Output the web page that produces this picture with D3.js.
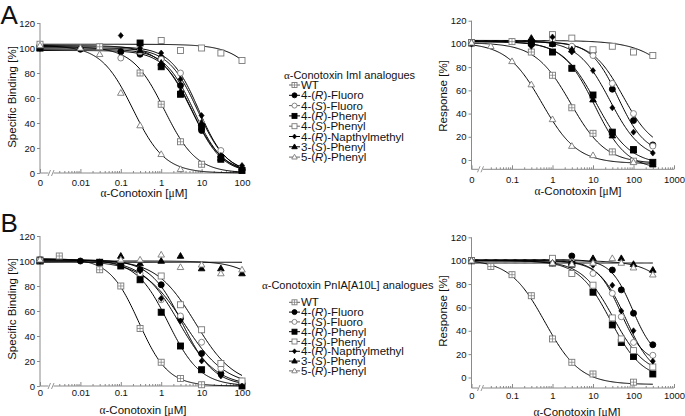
<!DOCTYPE html>
<html><head><meta charset="utf-8">
<script src="https://cdn.jsdelivr.net/npm/d3@7"></script>
<style>
body{margin:0;background:#fff}
svg{display:block}
text{font-family:"Liberation Sans",Arial,Helvetica,sans-serif;fill:#111}
</style>
</head><body>
<svg id="c" width="685" height="416"></svg>
<script>
// ---------------- DATA ----------------
const seriesNames = ["WT","4-(R)-Fluoro","4-(S)-Fluoro","4-(R)-Phenyl","4-(S)-Phenyl","4-(R)-Napthylmethyl","3-(S)-Phenyl","5-(R)-Phenyl"];
const seriesSymbols = ["boxplus","circle-f","circle-o","square-f","square-o","diamond-f","triangle-f","triangle-o"];
const legendTitleA = "α-Conotoxin ImI analogues";
const legendTitleB = "α-Conotoxin PnIA[A10L] analogues";
const xTitle = "α-Conotoxin [μM]";
const yTitleBinding = "Specific Binding [%]";
const yTitleResponse = "Response [%]";
const yTicks = [0, 20, 40, 60, 80, 100, 120];
const xTicksLeft = [0, 0.01, 0.1, 1, 10, 100];
const xTicksRight = [0, 0.1, 1, 10, 100, 1000];

// Panel A, binding (ImI)
const concABind = [0, 0.01, 0.03, 0.1, 0.3, 1, 3, 10, 30, 100];
const valsABind = [
  [100, null, 101, null, 80, 55, 25, 7, null, null],
  [100, 99, null, 97, 95, 92, 70, 34, 13, 3],
  [100, null, null, 92, 97, 91, 80, 40, 18, 4],
  [100, null, null, null, 104, 85, 63, 37, 11, 2],
  [103, null, null, null, null, 106, 98, 100, 96, 90],
  [100, null, null, 110, 100, 96, 75, 46, 14, 6],
  [100, null, null, null, 98, 88, 65, 40, 12, 4],
  [102, 100, 95, 64, 38, 15, 3, null, null, null]
];
// fitted curves: [top, bottom, IC50 (µM), Hill slope]
const fitsABind = [
  [101, 0, 1.2, 1.1], [98, 0, 6, 1.2], [100, 0, 8, 1.2], [102, 0, 5.5, 1.1],
  [103, 0, 700, 1], [101, 0, 8.5, 1.25], [99, 0, 6.5, 1.2], [102, 0, 0.2, 1.1]
];

// Panel A, response (ImI)
const concAResp = [0, 0.03, 0.1, 0.3, 1, 3, 10, 30, 100, 300];
const valsAResp = [
  [101, null, 102, 93, 73, 45, 23, 7, -1, null],
  [101, null, null, 100, 100, 97, 93, 61, 34, 13],
  [100, null, null, null, 104, 98, 90, 66, 40, 12],
  [101, null, null, 101, 93, 79, 56, 24, 9, -2],
  [101, null, null, null, 108, 105, 95, 98, 93, 90],
  [100, null, null, 98, 106, 93, 77, 45, 24, 6],
  [101, null, null, 105, 100, 95, 52, 21, 8, -4],
  [101, 98, 85, 65, 35, 12, 4, null, -2, null]
];
const fitsAResp = [
  [101, -3, 2.8, 1.0], [102, 5, 42, 1.3], [102, 8, 55, 1.15], [102, -4, 12, 1.05],
  [103, 0, 3000, 0.8], [103, 0, 26, 1.1], [102, -8, 11, 1.1], [101, -3, 0.55, 1.0]
];

// Panel B, binding (PnIA[A10L])
const concBBind = [0, 0.003, 0.01, 0.03, 0.1, 0.3, 1, 3, 10, 30, 100];
const valsBBind = [
  [101, 104, null, 93, 80, 46, 19, 6, 1, null, null],
  [101, null, 100, 99, 98, 93, 81, 54, 26, 10, 2],
  [100, null, null, 99, 98, 90, 69, 56, 35, 14, 4],
  [100, null, null, 99, 96, 85, 59, 32, 13, null, 0],
  [100, null, null, null, null, null, 88, 65, 45, 18, 4],
  [100, null, null, null, null, 92, 70, 52, 20, 8, 0],
  [100, null, null, null, 104, 98, 100, 104, 94, 94, 90],
  [101, null, null, null, 101, 101, 105, 95, 97, 90, 93]
];
const fitsBBind = [
  [102, 0, 0.28, 1.2], [101, 0, 3.3, 1.1], [100, 0, 3.7, 0.85], [101, 0, 1.5, 1.1],
  [101, 0, 7, 0.9], [101, 0, 2.8, 0.95], [100, 0, 1300, 1], [99, 99, 1, 1]
];

// Panel B, response (PnIA[A10L])
const concBResp = [0, 0.03, 0.1, 0.3, 1, 3, 10, 30, 50, 100, 300];
const valsBResp = [
  [100, 95, 88, 70, 33, 13, 3, null, null, -4, null],
  [100, null, null, null, 100, 104, null, 92, 75, 55, 28],
  [100, null, null, null, 98, 99, 89, 72, 52, 30, 19],
  [100, null, null, null, 98, 97, 73, 45, 30, 18, 3],
  [100, null, null, null, 102, 89, 79, 51, 33, 23, 9],
  [100, null, null, null, 98, 98, 96, 79, 57, 40, 14],
  [100, null, null, null, 98, 98, 102, null, 102, 97, 92],
  [100, null, null, null, 98, 97, 98, 102, 98, 94, 88]
];
const fitsBResp = [
  [101, -6, 0.65, 1.0], [101, 15, 95, 1.6], [100, 12, 48, 1.5], [100, -2, 27, 1.1],
  [100, 2, 32, 1.1], [100, 0, 65, 1.3], [98, 98, 1, 1], [100, 0, 2500, 1]
];

// ---------------- DRAWING ----------------
const svg = d3.select("#c");
const AXIS_COL = "#8a8a8a";
const OPEN_COL = "#7a7a7a";
const serifF = "'Liberation Serif','DejaVu Serif',serif";

function richText(t, str) {
  str.split(/(α|μ|\([RS]\))/).filter(s => s !== "").forEach(p => {
    if (p === "α" || p === "μ") t.append("tspan").style("font-family", serifF).text(p);
    else if (/^\([RS]\)$/.test(p)) {
      t.append("tspan").text("(");
      t.append("tspan").style("font-style", "italic").text(p[1]);
      t.append("tspan").text(")");
    } else t.append("tspan").text(p);
  });
  return t;
}

function drawSym(g, type, cx, cy, s) {
  const filled = type.endsWith("-f");
  const fill = filled ? "#000" : "#fff";
  const stroke = filled ? "#000" : OPEN_COL;
  const sw = 0.9;
  if (type.startsWith("square") || type === "boxplus") {
    g.append("rect").attr("x", cx - s/2).attr("y", cy - s/2).attr("width", s).attr("height", s)
      .attr("fill", type === "boxplus" ? "#fff" : fill).attr("stroke", type === "boxplus" ? OPEN_COL : stroke).attr("stroke-width", sw);
    if (type === "boxplus") {
      g.append("line").attr("x1", cx).attr("x2", cx).attr("y1", cy - s/2).attr("y2", cy + s/2).attr("stroke", OPEN_COL).attr("stroke-width", 0.7);
      g.append("line").attr("x1", cx - s/2).attr("x2", cx + s/2).attr("y1", cy).attr("y2", cy).attr("stroke", OPEN_COL).attr("stroke-width", 0.7);
    }
  } else if (type.startsWith("circle")) {
    g.append("circle").attr("cx", cx).attr("cy", cy).attr("r", s/2).attr("fill", fill).attr("stroke", stroke).attr("stroke-width", sw);
  } else if (type.startsWith("diamond")) {
    const w = s * 0.42, h = s * 0.5;
    g.append("path").attr("d", `M${cx},${cy-h}L${cx+w},${cy}L${cx},${cy+h}L${cx-w},${cy}Z`).attr("fill", fill).attr("stroke", stroke).attr("stroke-width", 0.6);
  } else if (type.startsWith("triangle")) {
    const a = s * 1.1, h = a * 0.866;
    g.append("path").attr("d", `M${cx},${cy - h*0.6}L${cx + a/2},${cy + h*0.4}L${cx - a/2},${cy + h*0.4}Z`).attr("fill", fill).attr("stroke", stroke).attr("stroke-width", sw);
  }
}

const panels = [
  {conc: concABind, vals: valsABind, fits: fitsABind, ctrl: 0.001, xmax: 100, curveMax: 100,
   xr: [40, 242], yd: [0, 120], yr: [173, 23], xticks: xTicksLeft, yTitle: yTitleBinding,
   yTitlePos: [12, 97], xTitlePos: [144, 197], tickBase: 185.5, breakX: 49.5},
  {conc: concAResp, vals: valsAResp, fits: fitsAResp, ctrl: 0.01, xmax: 1000, curveMax: 300,
   xr: [471.5, 674], yd: [-8, 120], yr: [169.3, 20.7], xticks: xTicksRight, yTitle: yTitleResponse,
   yTitlePos: [443, 96], xTitlePos: [578, 195], tickBase: 183.5, breakX: 479},
  {conc: concBBind, vals: valsBBind, fits: fitsBBind, ctrl: 0.001, xmax: 100, curveMax: 100,
   xr: [40, 242], yd: [0, 120], yr: [386, 236], xticks: xTicksLeft, yTitle: yTitleBinding,
   yTitlePos: [12, 309], xTitlePos: [143, 414], tickBase: 396, breakX: 49.5},
  {conc: concBResp, vals: valsBResp, fits: fitsBResp, ctrl: 0.01, xmax: 1000, curveMax: 300,
   xr: [471.5, 674], yd: [-9, 120], yr: [388, 237.3], xticks: xTicksRight, yTitle: yTitleResponse,
   yTitlePos: [443, 311], xTitlePos: [577, 415.5], tickBase: 398.5, breakX: 479}
];

const fmt = v => v === 0 ? "0" : (v < 1 ? String(v) : d3.format("d")(v));

panels.forEach(p => {
  const g = svg.append("g");
  const x = d3.scaleLog().domain([p.ctrl, p.xmax]).range(p.xr);
  const y = d3.scaleLinear().domain(p.yd).range(p.yr);
  const xp = c => x(c === 0 ? p.ctrl : c);
  const yBase = p.yr[0];

  // y axis
  const yAx = g.append("g").attr("transform", `translate(${p.xr[0]},0)`)
    .call(d3.axisLeft(y).tickValues(yTicks).tickSize(3).tickPadding(2).tickFormat(d3.format("d")));
  yAx.select(".domain").remove();
  yAx.selectAll(".tick line").attr("stroke", AXIS_COL);
  yAx.selectAll(".tick text").style("font-size", "9.5px").attr("fill", "#111").style("font-family", "'Liberation Sans',Arial,sans-serif");
  g.append("line").attr("x1", p.xr[0]).attr("x2", p.xr[0]).attr("y1", yBase).attr("y2", y(120)).attr("stroke", AXIS_COL);

  // x axis: major + minor ticks
  const majors = p.xticks.map(v => v === 0 ? p.ctrl : v);
  const minors = [];
  for (let d = p.ctrl; d < p.xmax; d *= 10) for (let k = 2; k <= 9; k++) {
    const v = k * d;
    if (x(v) > p.breakX + 5) minors.push(v);
  }
  const xAx = g.append("g").attr("transform", `translate(0,${yBase})`)
    .call(d3.axisBottom(x).tickValues(majors).tickSize(-4).tickPadding(0).tickFormat((v, i) => fmt(p.xticks[i])));
  xAx.select(".domain").remove();
  xAx.selectAll(".tick line").attr("stroke", AXIS_COL);
  xAx.selectAll(".tick text").attr("y", p.tickBase - yBase).attr("dy", 0).style("font-size", "9.5px")
    .attr("fill", "#111").style("font-family", "'Liberation Sans',Arial,sans-serif");
  const xMin = g.append("g").attr("transform", `translate(0,${yBase})`)
    .call(d3.axisBottom(x).tickValues(minors).tickSize(-2).tickFormat(""));
  xMin.select(".domain").remove();
  xMin.selectAll(".tick line").attr("stroke", AXIS_COL);
  // broken baseline
  g.append("line").attr("x1", p.xr[0]).attr("x2", p.breakX - 1).attr("y1", yBase).attr("y2", yBase).attr("stroke", AXIS_COL);
  g.append("line").attr("x1", p.breakX + 4).attr("x2", p.xr[1]).attr("y1", yBase).attr("y2", yBase).attr("stroke", AXIS_COL);
  [p.breakX - 1.5, p.breakX + 2].forEach(bx => {
    g.append("line").attr("x1", bx).attr("x2", bx + 2.5).attr("y1", yBase + 3).attr("y2", yBase - 3).attr("stroke", AXIS_COL).attr("stroke-width", 0.9);
  });

  // titles
  richText(g.append("text").attr("x", p.xTitlePos[0]).attr("y", p.xTitlePos[1]).attr("text-anchor", "middle").style("font-size", "11.5px"), xTitle);
  g.append("text").attr("transform", `translate(${p.yTitlePos[0] + 4},${p.yTitlePos[1]}) rotate(-90)`)
    .attr("text-anchor", "middle").style("font-size", "11.5px").text(p.yTitle);

  // fitted curves
  const lx0 = Math.log10(p.ctrl), lx1 = Math.log10(p.curveMax);
  const line = d3.line().x(d => x(d[0])).y(d => y(d[1]));
  p.fits.forEach(f => {
    const [top, bot, ic, h] = f;
    const pts = d3.range(0, 201).map(i => {
      const c = Math.pow(10, lx0 + (lx1 - lx0) * i / 200);
      return [c, bot + (top - bot) / (1 + Math.pow(c / ic, h))];
    });
    g.append("path").attr("d", line(pts)).attr("fill", "none").attr("stroke", "#000").attr("stroke-width", 1);
  });

  // points
  p.vals.forEach((vals, si) => {
    vals.forEach((v, ci) => {
      if (v === null) return;
      drawSym(g, seriesSymbols[si], xp(p.conc[ci]), y(v), 6);
    });
  });
});

// legends
function legend(tx, ty, title, ex, ey0, dy) {
  const g = svg.append("g");
  richText(g.append("text").attr("x", tx).attr("y", ty + 4).style("font-size", "11px"), title);
  seriesNames.forEach((n, i) => {
    const cy = ey0 + i * dy;
    const open = !seriesSymbols[i].endsWith("-f");
    g.append("line").attr("x1", ex).attr("x2", ex + 11).attr("y1", cy).attr("y2", cy)
      .attr("stroke", open ? "#666" : "#000").attr("stroke-width", 1);
    drawSym(g, seriesSymbols[i], ex + 5.5, cy, 5);
    richText(g.append("text").attr("x", ex + 12).attr("y", cy + 4).style("font-size", "11.5px"), n);
  });
}
legend(284, 75, legendTitleA, 289, 85, 10.3);
legend(262, 285, legendTitleB, 289, 302.3, 9.8);

// panel letters
svg.append("text").attr("x", 0.5).attr("y", 23.5).style("font-size", "26px").text("A");
svg.append("text").attr("x", 0.5).attr("y", 232).style("font-size", "26px").text("B");
</script>
</body></html>
